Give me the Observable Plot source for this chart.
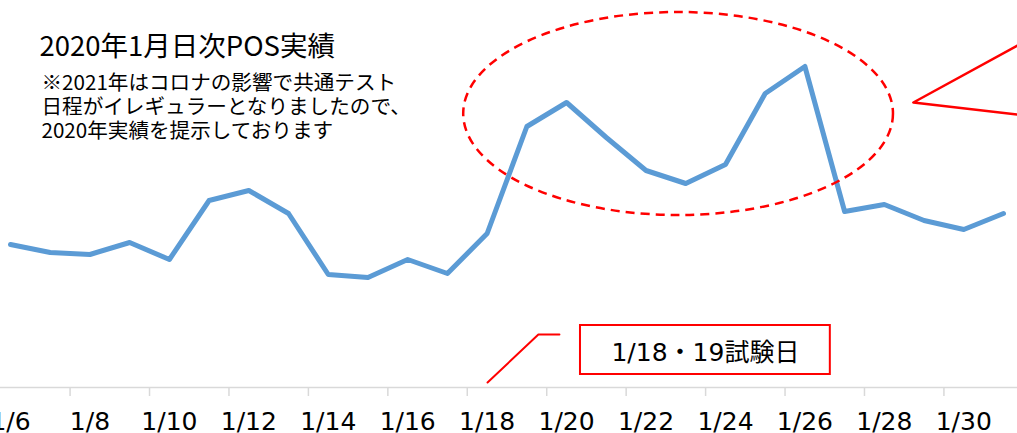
<!DOCTYPE html>
<html><head><meta charset="utf-8">
<script src="https://cdn.jsdelivr.net/npm/d3@7"></script>
<script src="https://cdn.jsdelivr.net/npm/@observablehq/plot@0.6"></script>
<style>body{margin:0;background:#fff;} svg{overflow:hidden;display:block}</style>
</head><body><div id="chart"></div>
<script>
// Daily POS, January 2020 (relative units)
const days = [6,7,8,9,10,11,12,13,14,15,16,17,18,19,20,21,22,23,24,25,26,27,28,29,30,31];
const sales = [143,135,133,145,128,187,197,174,113,110,128,114,154,261,285,250,217,204,223,294,321,176,183,167,158,174];
const labelDays = [6,8,10,12,14,16,18,20,22,24,26,28,30];
const tickDays = [7.5,9.5,11.5,13.5,15.5,17.5,19.5,21.5,23.5,25.5,27.5,29.5];
const titleText = "2020年1月日次POS実績";
const noteLines = ["※2021年はコロナの影響で共通テスト", "日程がイレギュラーとなりましたので、", "2020年実績を提示しております"];
const examLabel = "1/18・19試験日";
// annotation geometry in data units (day, value)
const ellipseCenter = [22.82, 273.5];
const ellipseRadii = [5.41, 101.5];
const pointerDays = [31.35, 28.73, 31.35];
const pointerVals = [342, 285, 273];
const boxDays = [20.35, 26.64];
const boxVals = [13, 62];
const connectorDays = [18.01, 19.29, 19.82];
const connectorVals = [5, 53, 53];

const series = days.map((d, i) => ({day: d, value: sales[i]}));
const pointer = pointerDays.map((d, i) => ({day: d, value: pointerVals[i]}));
const connector = connectorDays.map((d, i) => ({day: d, value: connectorVals[i]}));

const RED = "#ff0000";
const W = 1017, H = 433;
const LATIN = "'DejaVu Sans', 'Noto Sans CJK JP', sans-serif";

function ellipseMark(index, scales) {
  const x = scales.x, y = scales.y;
  const cx = x(ellipseCenter[0]), cy = y(ellipseCenter[1]);
  const rx = x(ellipseCenter[0] + ellipseRadii[0]) - cx;
  const ry = cy - y(ellipseCenter[1] + ellipseRadii[1]);
  return d3.create("svg:ellipse")
    .attr("cx", cx).attr("cy", cy).attr("rx", rx).attr("ry", ry)
    .attr("fill", "none").attr("stroke", RED).attr("stroke-width", 2.5)
    .attr("stroke-dasharray", "9,6").node();
}

const chart = Plot.plot({
  width: W,
  height: H,
  marginTop: 0, marginLeft: 0, marginRight: 0, marginBottom: 46,
  style: {fontFamily: "'Noto Sans CJK JP', 'Noto Sans', sans-serif", background: "#fff", color: "#000"},
  x: {type: "linear", domain: [6, 31], range: [10, 1003]},
  y: {domain: [0, 387], range: [387, 0], axis: null},
  marks: [
    Plot.ruleY([0], {stroke: "#d9d9d9", strokeWidth: 1.5}),
    Plot.ruleX(tickDays, {y1: 0, y2: -9, stroke: "#d9d9d9", strokeWidth: 1.5}),
    Plot.axisX(labelDays, {tickSize: 0, tickPadding: 25, fontSize: 25, fontFamily: LATIN, letterSpacing: 1.5, fill: "#000", tickFormat: d => `1/${d}`, label: null}),
    Plot.line(series, {x: "day", y: "value", stroke: "#5b9bd5", strokeWidth: 5, strokeLinejoin: "round", strokeLinecap: "round"}),
    ellipseMark,
    Plot.line(pointer, {x: "day", y: "value", stroke: RED, strokeWidth: 2.5}),
    Plot.line(connector, {x: "day", y: "value", stroke: RED, strokeWidth: 2}),
    Plot.rect([0], {x1: boxDays[0], x2: boxDays[1], y1: boxVals[0], y2: boxVals[1], fill: "#fff", stroke: RED, strokeWidth: 2}),
    Plot.text([examLabel], {x: (boxDays[0] + boxDays[1]) / 2, y: (boxVals[0] + boxVals[1]) / 2, dy: 3, text: d => d, fontSize: 25, fontFamily: LATIN, fill: "#000", lineAnchor: "middle"}),
    Plot.text([titleText], {frameAnchor: "top-left", dx: 39, dy: 36, text: d => d, fontSize: 27.5, fill: "#000", textAnchor: "start", lineAnchor: "top"}),
    Plot.text([noteLines.join("\n")], {frameAnchor: "top-left", dx: 41, dy: 72, text: d => d, fontSize: 20.6, lineHeight: 1.17, fill: "#000", textAnchor: "start", lineAnchor: "top"})
  ]
});
document.getElementById("chart").appendChild(chart);
</script>
</body></html>
